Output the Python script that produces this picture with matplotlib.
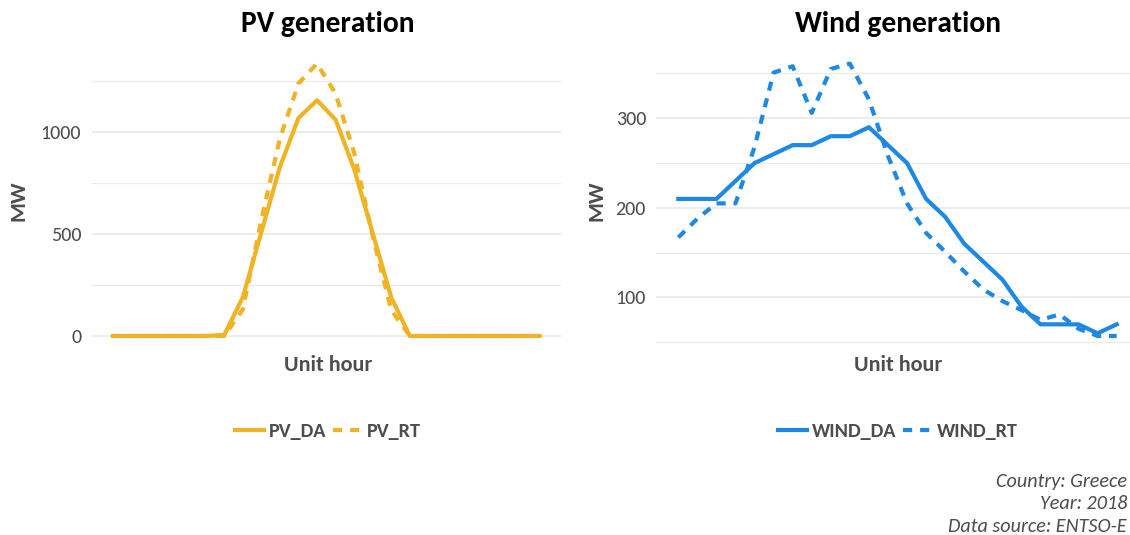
import matplotlib
matplotlib.use("Agg")
import matplotlib.pyplot as plt
from matplotlib import font_manager
from matplotlib.lines import Line2D
from matplotlib.ticker import MultipleLocator

# ---- data -------------------------------------------------------------
hours = list(range(1, 25))

pv_da = [0, 0, 0, 0, 0, 0, 5, 190, 510, 830, 1070, 1157,
         1062, 820, 505, 190, 0, 0, 0, 0, 0, 0, 0, 0]
pv_rt = [0, 0, 0, 0, 0, 0, 0, 130, 570, 970, 1240, 1337,
         1190, 900, 490, 127, 0, 0, 0, 0, 0, 0, 0, 0]

wind_da = [210, 210, 210, 230, 250, 260, 270, 270, 280, 280, 290, 270,
           250, 210, 190, 160, 140, 120, 90, 70, 70, 70, 60, 70]
wind_rt = [167, 188, 205, 205, 268, 351, 358, 306, 355, 361, 321, 258,
           205, 172, 151, 129, 109, 96, 86, 75, 81, 65, 57, 57]

pv_yticks = [0, 500, 1000]
wind_yticks = [100, 200, 300]

caption_lines = ["Country: Greece", "Year: 2018", "Data source: ENTSO-E"]

# ---- style ------------------------------------------------------------
available = {f.name for f in font_manager.fontManager.ttflist}
FONT = "Carlito" if "Carlito" in available else "Lato"
plt.rcParams["font.family"] = [FONT, "DejaVu Sans"]

PV_COLOR = "#F0B323"
WIND_COLOR = "#1E88E5"
TEXT_GRAY = "#4D4D4D"
GRID = "#EBEBEB"
LW = 3.0
DASH = (2.2, 1.9)

W, H = 1130, 535
fig = plt.figure(figsize=(W / 100, H / 100), dpi=100)


def fx(px):
    return px / W


def fy(py):
    return 1 - py / H


def make_panel(left_px, right_px, top_px, bottom_px):
    ax = fig.add_axes([fx(left_px), fy(bottom_px),
                       fx(right_px - left_px), (bottom_px - top_px) / H])
    for s in ax.spines.values():
        s.set_visible(False)
    ax.tick_params(axis="both", length=0, labelsize=14.5,
                   labelcolor=TEXT_GRAY, pad=7.5)
    ax.set_xticks([])
    ax.grid(True, which="major", axis="y", color=GRID, lw=1.3)
    ax.grid(True, which="minor", axis="y", color=GRID, lw=0.9)
    ax.set_axisbelow(True)
    ax.set_xlim(1 - 0.05 * 23, 24 + 0.05 * 23)
    return ax


# ---- PV panel ---------------------------------------------------------
ax1 = make_panel(91.6, 561, 50, 349.6)
ax1.plot(hours, pv_da, color=PV_COLOR, lw=LW)
ax1.plot(hours, pv_rt, color=PV_COLOR, lw=LW, dashes=DASH)
lo, hi = min(pv_da + pv_rt), max(pv_da + pv_rt)
pad = 0.05 * (hi - lo)
ax1.set_ylim(lo - pad, hi + pad)
ax1.set_yticks(pv_yticks)
ax1.yaxis.set_minor_locator(MultipleLocator(250))
ax1.tick_params(which="minor", length=0)

# ---- Wind panel -------------------------------------------------------
ax2 = make_panel(656.4, 1138.6, 50, 349.6)
ax2.plot(hours, wind_da, color=WIND_COLOR, lw=LW)
ax2.plot(hours, wind_rt, color=WIND_COLOR, lw=LW, dashes=DASH)
lo, hi = min(wind_da + wind_rt), max(wind_da + wind_rt)
pad = 0.05 * (hi - lo)
ax2.set_ylim(lo - pad, hi + pad)
ax2.set_yticks(wind_yticks)
ax2.yaxis.set_minor_locator(MultipleLocator(50))
ax2.tick_params(which="minor", length=0)

# ---- titles, axis labels, legends -------------------------------------
LEG_SIZE = 14.5
for ax, title, ylab_x, cx, names, color in [
    (ax1, "PV generation", 18, 328, ("PV_DA", "PV_RT"), PV_COLOR),
    (ax2, "Wind generation", 596, 898, ("WIND_DA", "WIND_RT"), WIND_COLOR),
]:
    fig.text(fx(cx), fy(24), title, ha="center", va="center",
             fontsize=21.3, fontweight="bold", color="black")
    fig.text(fx(cx), fy(365), "Unit hour", ha="center", va="center",
             fontsize=16, fontweight="bold", color=TEXT_GRAY)
    fig.text(fx(ylab_x), fy(201), "MW", ha="center", va="center",
             rotation=90, fontsize=16.5, fontweight="bold", color=TEXT_GRAY)
    handles = [Line2D([], [], color=color, lw=LW),
               Line2D([], [], color=color, lw=LW, dashes=DASH)]
    fig.legend(handles, names, loc="center", bbox_to_anchor=(fx(cx), fy(431)),
               ncol=2, frameon=False, handlelength=1.45,
               handletextpad=0.25, columnspacing=0.3, borderaxespad=0,
               prop={"weight": "semibold", "size": LEG_SIZE},
               labelcolor=TEXT_GRAY)

# ---- caption ----------------------------------------------------------
for i, line in enumerate(caption_lines):
    fig.text(fx(1127), fy(481 + 22.5 * i), line, ha="right", va="center",
             fontsize=14.5, fontstyle="italic", color=TEXT_GRAY)

fig.savefig("out.png", dpi=100)
